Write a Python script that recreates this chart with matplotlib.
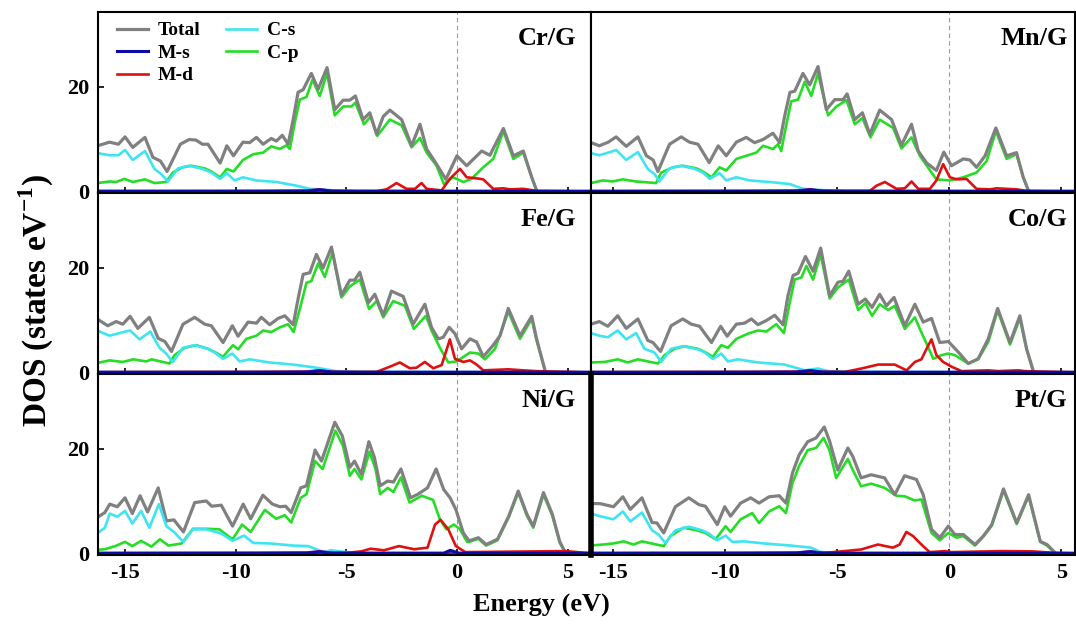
import matplotlib.pyplot as plt
import numpy as np

plt.rcParams['font.family'] = ['Liberation Serif', 'DejaVu Serif']
plt.rcParams['font.weight'] = 'bold'
plt.rcParams['axes.unicode_minus'] = False
plt.rcParams['mathtext.fontset'] = 'custom'
plt.rcParams['mathtext.rm'] = 'Liberation Serif:bold'
plt.rcParams['mathtext.bf'] = 'Liberation Serif:bold'

# Energy (eV), DOS (states/eV)
cr_total = [(-16.24, 8.7), (-15.7, 9.4), (-15.3, 9.0), (-15.0, 10.4), (-14.65, 8.4), (-14.1, 10.3),
            (-13.74, 6.5), (-13.4, 5.8), (-13.1, 3.8), (-12.5, 9.0), (-12.1, 9.9), (-11.8, 9.8),
            (-11.5, 9.0), (-11.25, 9.0), (-10.7, 5.4), (-10.4, 8.7), (-10.1, 6.8), (-9.67, 9.4),
            (-9.37, 9.3), (-9.06, 10.3), (-8.76, 9.0), (-8.39, 10.1), (-8.16, 9.6), (-7.89, 10.7),
            (-7.63, 9.0), (-7.4, 13.7), (-7.18, 18.9), (-6.95, 19.4), (-6.58, 22.5), (-6.27, 19.5),
            (-5.87, 23.6), (-5.52, 15.6), (-5.14, 17.4), (-4.84, 17.4), (-4.59, 18.2), (-4.24, 13.7),
            (-3.94, 15.0), (-3.63, 10.9), (-3.33, 14.3), (-3.03, 15.5), (-2.5, 13.7), (-2.05, 8.7),
            (-1.67, 12.8), (-1.37, 8.1), (-0.92, 5.2), (-0.5, 2.3), (0.0, 6.8), (0.44, 4.9),
            (1.12, 7.7), (1.49, 6.9), (2.1, 12.0), (2.55, 6.8), (3.0, 7.7), (3.38, 2.7), (3.6, 0.2)]
cr_cp = [(-16.24, 1.6), (-15.7, 1.9), (-15.4, 1.8), (-15.03, 2.4), (-14.65, 1.8), (-14.1, 2.3),
         (-13.67, 1.6), (-13.14, 1.8), (-12.84, 3.6), (-12.4, 4.6), (-12.0, 4.9), (-11.4, 4.4),
         (-11.1, 3.8), (-10.7, 2.7), (-10.4, 4.3), (-10.1, 3.8), (-9.67, 6.0), (-9.2, 7.1),
         (-8.76, 7.4), (-8.39, 8.6), (-8.0, 8.1), (-7.7, 8.8), (-7.55, 8.1), (-7.33, 13.1),
         (-7.1, 17.5), (-6.8, 18.0), (-6.53, 21.3), (-6.2, 18.2), (-5.87, 22.5), (-5.52, 14.5),
         (-5.14, 16.2), (-4.77, 16.2), (-4.59, 16.9), (-4.2, 12.8), (-3.9, 14.3), (-3.6, 10.6),
         (-3.03, 13.7), (-2.5, 12.6), (-2.05, 8.4), (-1.67, 10.2), (-1.37, 7.4), (-0.92, 4.9),
         (-0.59, 1.4), (-0.17, 2.7), (0.29, 1.8), (0.66, 2.4), (1.19, 4.6), (1.64, 6.2),
         (2.1, 11.5), (2.55, 6.2), (3.0, 7.4), (3.38, 2.7), (3.6, 0.2)]
cr_cs = [(-16.24, 7.3), (-15.7, 6.9), (-15.3, 6.9), (-15.0, 7.9), (-14.65, 6.0), (-14.1, 7.7),
         (-13.67, 4.3), (-13.36, 3.3), (-13.06, 1.9), (-12.6, 4.4), (-12.1, 4.9), (-11.5, 4.3),
         (-11.1, 3.6), (-10.7, 2.4), (-10.4, 3.5), (-10.05, 2.1), (-9.67, 2.7), (-9.06, 2.1),
         (-8.16, 1.8), (-7.25, 1.1), (-6.65, 0.5), (-5.75, 0.25), (-4.54, 0.1), (6.1, 0.0)]
cr_md = [(-16.24, 0.05), (-3.63, 0.05), (-3.18, 0.4), (-2.73, 1.6), (-2.28, 0.5), (-1.9, 0.5),
         (-1.6, 1.6), (-1.37, 0.5), (-0.69, 0.2), (-0.32, 2.4), (0.14, 4.3), (0.44, 2.7),
         (0.89, 2.5), (1.19, 2.3), (1.64, 0.5), (2.1, 0.6), (2.4, 0.4), (3.0, 0.5), (3.6, 0.1), (6.1, 0.0)]

mn_total = [(-15.97, 9.3), (-15.6, 8.7), (-15.2, 9.4), (-14.85, 10.4), (-14.4, 8.6), (-13.88, 10.4),
            (-13.5, 6.8), (-13.2, 6.0), (-12.99, 3.8), (-12.47, 9.0), (-11.95, 10.4), (-11.58, 9.4),
            (-11.2, 9.0), (-10.7, 5.5), (-10.3, 8.7), (-9.94, 6.8), (-9.49, 9.4), (-9.05, 10.3),
            (-8.68, 9.3), (-8.3, 9.9), (-7.86, 11.1), (-7.56, 9.3), (-7.34, 14.3), (-7.1, 18.9),
            (-6.89, 19.1), (-6.52, 22.5), (-6.22, 20.3), (-5.85, 23.8), (-5.48, 15.6), (-5.1, 17.5),
            (-4.73, 17.5), (-4.55, 18.6), (-4.21, 13.7), (-3.87, 15.0), (-3.54, 10.9), (-3.1, 15.5),
            (-2.57, 13.7), (-2.13, 8.8), (-1.68, 12.8), (-1.38, 7.7), (-1.0, 5.4), (-0.57, 4.0),
            (-0.24, 7.5), (0.1, 4.9), (0.63, 6.2), (0.92, 6.0), (1.22, 4.6), (1.6, 6.8),
            (2.08, 12.1), (2.56, 6.8), (3.0, 7.4), (3.3, 2.7), (3.53, 0.2)]
mn_cp = [(-15.97, 1.6), (-15.45, 2.1), (-15.0, 1.9), (-14.56, 2.3), (-13.96, 1.9), (-13.07, 1.6),
         (-12.84, 3.6), (-12.32, 4.6), (-11.87, 4.9), (-11.28, 4.4), (-10.98, 3.8), (-10.6, 2.7),
         (-10.24, 4.6), (-9.94, 4.0), (-9.49, 6.2), (-9.05, 6.8), (-8.6, 7.4), (-8.3, 8.7),
         (-7.86, 8.1), (-7.63, 9.0), (-7.49, 7.7), (-7.26, 12.8), (-7.04, 17.2), (-6.74, 17.5),
         (-6.44, 20.9), (-6.15, 18.2), (-5.85, 22.5), (-5.4, 14.5), (-5.03, 16.2), (-4.58, 17.4),
         (-4.21, 12.8), (-3.87, 14.0), (-3.51, 10.3), (-3.1, 13.7), (-2.5, 12.1), (-2.13, 8.2),
         (-1.68, 10.3), (-1.31, 6.8), (-1.0, 4.9), (-0.57, 2.3), (0.03, 2.1), (0.63, 2.7),
         (1.22, 3.6), (1.67, 5.8), (2.08, 11.5), (2.56, 6.2), (3.0, 7.1), (3.3, 2.7), (3.53, 0.2)]
mn_cs = [(-15.97, 7.3), (-15.6, 6.9), (-15.2, 7.4), (-14.85, 7.9), (-14.4, 6.0), (-13.88, 7.5),
         (-13.44, 4.3), (-13.14, 3.3), (-12.92, 1.9), (-12.47, 4.4), (-11.95, 4.9), (-11.35, 4.3),
         (-10.98, 3.6), (-10.68, 2.4), (-10.24, 3.5), (-9.94, 2.1), (-9.49, 2.7), (-8.9, 2.1),
         (-8.0, 1.8), (-7.1, 1.4), (-6.52, 0.5), (-5.63, 0.25), (-4.43, 0.1), (5.7, 0.0)]
mn_md = [(-15.97, 0.05), (-3.54, 0.1), (-3.24, 1.1), (-2.87, 1.8), (-2.35, 0.5), (-1.98, 0.6),
         (-1.68, 1.9), (-1.38, 0.5), (-0.86, 0.5), (-0.57, 2.1), (-0.27, 5.2), (0.03, 2.7),
         (0.33, 2.3), (0.77, 2.4), (1.22, 0.5), (1.82, 0.4), (2.11, 0.6), (3.0, 0.4), (3.45, 0.1), (5.7, 0.0)]

fe_total = [(-16.15, 9.9), (-15.78, 8.9), (-15.4, 9.7), (-15.1, 9.2), (-14.77, 10.7), (-14.42, 8.4),
            (-13.9, 10.5), (-13.5, 6.5), (-13.2, 5.9), (-12.9, 4.0), (-12.38, 9.2), (-11.85, 10.5),
            (-11.4, 9.2), (-11.1, 8.9), (-10.57, 5.7), (-10.15, 8.9), (-9.89, 6.9), (-9.44, 9.6),
            (-9.06, 9.4), (-8.84, 10.5), (-8.46, 9.1), (-8.08, 10.3), (-7.78, 10.8), (-7.4, 9.1),
            (-7.18, 14.0), (-6.95, 18.7), (-6.65, 19.0), (-6.35, 22.5), (-6.05, 19.9), (-5.67, 23.9),
            (-5.22, 14.7), (-4.84, 17.6), (-4.62, 17.6), (-4.39, 19.1), (-4.0, 13.3), (-3.71, 14.9),
            (-3.33, 10.9), (-2.96, 15.5), (-2.43, 14.5), (-1.98, 9.2), (-1.45, 13.0), (-1.15, 8.6),
            (-0.84, 6.4), (-0.62, 6.7), (-0.35, 8.6), (-0.09, 7.4), (0.21, 4.5), (0.59, 6.4),
            (0.89, 5.8), (1.19, 3.0), (1.64, 5.2), (1.95, 7.0), (2.32, 12.2), (2.85, 7.0),
            (3.38, 10.7), (3.6, 6.4), (3.98, 0.4)]
fe_cp = [(-16.15, 1.9), (-15.7, 2.3), (-15.1, 2.0), (-14.63, 2.5), (-14.04, 2.1), (-13.8, 2.5),
         (-12.99, 1.7), (-12.76, 3.3), (-12.3, 4.7), (-11.78, 5.2), (-11.25, 4.5), (-10.95, 3.9),
         (-10.57, 3.0), (-10.12, 5.2), (-9.89, 4.4), (-9.52, 6.4), (-9.06, 7.0), (-8.76, 8.0),
         (-8.39, 7.7), (-8.0, 8.6), (-7.63, 9.2), (-7.38, 7.7), (-7.1, 12.1), (-6.8, 17.1),
         (-6.58, 17.4), (-6.27, 20.8), (-5.97, 18.2), (-5.62, 22.9), (-5.22, 14.3), (-4.84, 16.4),
         (-4.39, 17.7), (-3.97, 12.1), (-3.63, 13.6), (-3.33, 10.5), (-2.88, 13.6), (-2.35, 12.7),
         (-1.95, 8.3), (-1.4, 10.8), (-1.15, 8.0), (-0.77, 4.7), (-0.39, 1.9), (-0.02, 2.1),
         (0.59, 3.8), (0.97, 3.6), (1.27, 2.5), (1.72, 4.5), (2.32, 11.6), (2.85, 6.4),
         (3.38, 10.2), (3.6, 6.1), (3.98, 0.4)]
fe_cs = [(-16.15, 7.8), (-15.7, 7.0), (-15.25, 7.5), (-14.77, 8.0), (-14.34, 6.3), (-13.86, 7.8),
         (-13.44, 4.7), (-13.14, 3.6), (-12.84, 2.0), (-12.38, 4.7), (-11.85, 5.2), (-11.25, 4.5),
         (-10.95, 3.8), (-10.57, 2.6), (-10.15, 3.6), (-9.82, 2.1), (-9.37, 2.5), (-8.46, 1.9),
         (-7.4, 1.5), (-6.35, 0.9), (-5.45, 0.25), (-4.24, 0.1), (6.1, 0.0)]
fe_md = [(-16.15, 0.05), (-3.63, 0.1), (-3.03, 1.1), (-2.58, 1.9), (-2.13, 0.8), (-1.83, 0.9),
         (-1.45, 2.0), (-1.07, 0.8), (-0.69, 1.4), (-0.5, 3.9), (-0.32, 6.3), (-0.09, 2.6),
         (0.29, 2.0), (0.59, 2.3), (0.89, 1.5), (1.19, 0.4), (2.32, 0.6), (3.0, 0.4), (3.6, 0.25), (6.1, 0.0)]

co_total = [(-15.97, 9.2), (-15.6, 9.7), (-15.22, 8.8), (-14.78, 10.8), (-14.4, 8.4), (-13.88, 10.2),
            (-13.44, 6.1), (-13.21, 5.7), (-12.87, 4.0), (-12.4, 8.9), (-11.88, 10.2), (-11.5, 9.2),
            (-11.13, 8.8), (-10.6, 5.7), (-10.19, 8.8), (-9.9, 6.9), (-9.49, 9.2), (-9.12, 9.4),
            (-8.82, 10.2), (-8.53, 9.1), (-8.15, 9.9), (-7.78, 10.9), (-7.41, 9.1), (-7.19, 14.6),
            (-6.96, 18.5), (-6.74, 18.9), (-6.41, 22.1), (-6.07, 19.3), (-5.73, 23.7), (-5.33, 14.6),
            (-4.96, 17.2), (-4.73, 17.4), (-4.48, 19.3), (-4.06, 13.0), (-3.74, 14.0), (-3.44, 12.4),
            (-3.1, 14.9), (-2.8, 12.7), (-2.46, 14.3), (-1.98, 8.9), (-1.53, 13.0), (-1.16, 9.6),
            (-0.79, 10.3), (-0.42, 5.7), (-0.04, 5.9), (0.4, 3.9), (0.85, 1.7), (1.29, 2.6),
            (1.74, 6.4), (2.16, 12.2), (2.71, 5.7), (3.15, 10.8), (3.45, 4.5), (3.75, 0.25)]
co_cp = [(-15.97, 1.9), (-15.37, 2.0), (-14.78, 2.5), (-14.33, 1.9), (-13.88, 2.5), (-12.99, 1.7),
         (-12.69, 3.3), (-12.25, 4.5), (-11.8, 5.0), (-11.2, 4.5), (-10.9, 3.9), (-10.54, 3.0),
         (-10.16, 5.2), (-9.87, 4.7), (-9.49, 6.4), (-8.97, 7.4), (-8.53, 8.0), (-8.15, 7.8),
         (-7.71, 9.2), (-7.37, 7.5), (-7.11, 13.3), (-6.89, 17.7), (-6.59, 18.1), (-6.37, 20.3),
         (-6.07, 17.7), (-5.73, 22.5), (-5.33, 14.1), (-4.96, 16.2), (-4.48, 17.7), (-4.06, 11.9),
         (-3.74, 13.2), (-3.44, 10.8), (-3.1, 13.0), (-2.72, 11.9), (-2.43, 12.7), (-1.98, 8.3),
         (-1.53, 10.5), (-1.31, 8.3), (-1.01, 5.5), (-0.71, 2.6), (-0.34, 3.3), (-0.04, 3.6),
         (0.25, 3.3), (0.85, 1.7), (1.29, 2.5), (1.74, 5.8), (2.16, 11.8), (2.71, 5.3),
         (3.15, 10.3), (3.45, 4.4), (3.75, 0.25)]
co_cs = [(-15.97, 7.5), (-15.6, 7.0), (-15.22, 6.7), (-14.78, 8.0), (-14.4, 6.3), (-13.96, 7.5),
         (-13.59, 4.5), (-13.14, 3.8), (-12.84, 2.0), (-12.4, 4.5), (-11.88, 5.0), (-11.2, 4.4),
         (-10.9, 3.8), (-10.54, 2.6), (-10.16, 3.6), (-9.87, 2.1), (-9.42, 2.5), (-8.53, 1.9),
         (-7.34, 1.5), (-6.44, 0.4), (-5.85, 0.75), (-5.4, 0.25), (-4.36, 0.1), (5.7, 0.0)]
co_md = [(-15.97, 0.05), (-4.66, 0.1), (-3.91, 0.75), (-3.17, 1.5), (-2.43, 1.5), (-1.9, 0.4),
         (-1.53, 2.0), (-1.24, 2.5), (-1.01, 4.5), (-0.79, 6.3), (-0.57, 3.3), (-0.27, 2.0),
         (0.1, 1.1), (0.55, 0.25), (1.74, 0.4), (2.19, 0.25), (3.08, 0.4), (3.38, 0.25), (5.7, 0.0)]

ni_total = [(-16.2, 7.0), (-15.91, 7.8), (-15.69, 9.4), (-15.35, 8.9), (-15.0, 10.6), (-14.67, 7.6),
            (-14.32, 11.0), (-13.98, 7.9), (-13.5, 12.5), (-13.13, 6.2), (-12.79, 6.4), (-12.36, 4.1),
            (-11.85, 9.7), (-11.33, 10.0), (-11.08, 9.0), (-10.65, 9.2), (-10.14, 5.2), (-9.66, 9.4),
            (-9.32, 6.6), (-8.77, 11.1), (-8.34, 9.4), (-8.0, 8.9), (-7.74, 9.0), (-7.49, 7.8),
            (-7.06, 12.5), (-6.8, 12.9), (-6.41, 19.7), (-6.12, 17.6), (-5.52, 25.0), (-5.18, 22.4),
            (-4.84, 16.4), (-4.63, 17.6), (-4.32, 15.1), (-3.98, 21.3), (-3.73, 18.3), (-3.47, 12.9),
            (-3.13, 13.8), (-2.87, 13.6), (-2.53, 16.1), (-2.1, 10.6), (-1.76, 11.3), (-1.33, 12.5),
            (-0.94, 16.1), (-0.6, 12.2), (-0.31, 10.6), (-0.05, 8.4), (0.29, 3.9), (0.55, 2.4),
            (0.97, 3.0), (1.32, 1.7), (1.83, 2.7), (2.34, 7.1), (2.77, 11.9), (3.16, 7.5),
            (3.45, 5.2), (3.91, 11.6), (4.31, 7.5), (4.65, 2.2), (4.91, 0.1)]
ni_cp = [(-16.2, 0.7), (-15.91, 0.8), (-15.44, 1.4), (-15.0, 2.2), (-14.67, 1.4), (-14.27, 2.4),
         (-13.81, 1.3), (-13.42, 2.7), (-13.04, 1.5), (-12.44, 1.9), (-11.93, 4.7), (-11.33, 4.7),
         (-10.74, 4.6), (-10.14, 2.7), (-9.71, 5.5), (-9.32, 4.1), (-8.68, 8.3), (-8.17, 6.6),
         (-7.78, 7.3), (-7.49, 5.9), (-7.06, 10.6), (-6.8, 11.3), (-6.41, 17.6), (-6.07, 16.1),
         (-5.49, 23.4), (-5.15, 20.5), (-4.84, 14.8), (-4.63, 16.1), (-4.32, 14.1), (-3.95, 19.4),
         (-3.68, 16.1), (-3.47, 11.3), (-3.13, 12.5), (-2.87, 11.7), (-2.53, 14.5), (-2.14, 9.7),
         (-1.59, 11.0), (-1.08, 10.2), (-0.77, 6.5), (-0.48, 4.6), (-0.14, 5.5), (0.12, 4.7),
         (0.46, 2.2), (0.55, 2.2), (0.97, 2.8), (1.32, 1.5), (1.83, 2.5), (2.34, 6.9), (2.77, 11.6),
         (3.16, 7.2), (3.45, 4.9), (3.91, 11.2), (4.31, 7.2), (4.65, 2.0), (4.91, 0.1)]
ni_cs = [(-16.2, 4.0), (-15.91, 4.9), (-15.69, 7.6), (-15.35, 7.0), (-15.0, 8.1), (-14.67, 5.7),
         (-14.27, 8.1), (-13.9, 4.9), (-13.47, 9.4), (-13.13, 5.2), (-12.79, 4.1), (-12.36, 2.2),
         (-11.93, 4.6), (-11.33, 4.6), (-10.65, 3.8), (-10.14, 2.4), (-9.62, 3.4), (-9.2, 2.0),
         (-8.43, 1.9), (-7.4, 1.5), (-6.72, 1.4), (-6.03, 0.25), (-5.69, 0.6), (-5.0, 0.25),
         (-3.98, 0.1), (6.1, 0.0)]
ni_md = [(-16.2, 0.05), (-5.0, 0.1), (-4.32, 0.4), (-3.9, 0.9), (-3.3, 0.6), (-2.62, 1.4),
         (-1.93, 0.8), (-1.33, 1.1), (-0.99, 5.5), (-0.74, 6.4), (-0.39, 4.6), (-0.05, 1.4),
         (0.38, 0.25), (4.91, 0.45), (6.1, 0.0)]

pt_total = [(-16.04, 9.5), (-15.57, 9.5), (-14.97, 8.9), (-14.55, 10.8), (-14.22, 8.4), (-13.7, 10.6),
            (-13.25, 5.9), (-13.03, 5.8), (-12.73, 3.9), (-12.21, 8.9), (-11.61, 10.6), (-11.16, 9.3),
            (-10.87, 9.0), (-10.34, 5.5), (-10.01, 8.9), (-9.75, 7.1), (-9.3, 9.6), (-8.85, 10.6),
            (-8.48, 9.6), (-8.03, 10.8), (-7.58, 11.0), (-7.28, 9.6), (-6.99, 15.3), (-6.69, 18.8),
            (-6.31, 21.3), (-5.94, 22.0), (-5.57, 24.1), (-5.34, 21.5), (-4.97, 15.9), (-4.52, 20.1),
            (-4.3, 18.5), (-3.93, 14.4), (-3.48, 15.0), (-2.88, 14.4), (-2.43, 11.2), (-1.99, 14.8),
            (-1.46, 14.1), (-1.16, 11.2), (-0.79, 4.6), (-0.42, 3.0), (-0.04, 5.2), (0.25, 3.6),
            (0.63, 3.6), (1.15, 1.7), (1.52, 3.3), (1.9, 5.5), (2.42, 12.3), (3.01, 5.8),
            (3.54, 11.2), (4.06, 2.3), (4.36, 1.7), (4.73, 0.1)]
pt_cp = [(-16.04, 1.5), (-15.42, 1.7), (-14.97, 1.9), (-14.52, 2.3), (-14.07, 1.7), (-13.7, 2.3),
         (-12.73, 1.4), (-12.43, 3.3), (-11.84, 4.9), (-11.24, 4.4), (-10.87, 3.9), (-10.42, 2.7),
         (-9.97, 5.2), (-9.75, 4.1), (-9.3, 6.5), (-8.78, 7.7), (-8.48, 5.8), (-8.03, 8.0),
         (-7.58, 9.0), (-7.28, 7.7), (-6.99, 13.4), (-6.69, 16.7), (-6.31, 19.7), (-5.94, 20.1),
         (-5.6, 22.0), (-5.34, 19.7), (-5.04, 14.4), (-4.52, 18.0), (-4.3, 15.9), (-3.93, 12.8),
         (-3.48, 13.3), (-2.88, 12.5), (-2.36, 11.0), (-1.99, 10.9), (-1.54, 10.1), (-1.24, 10.3),
         (-0.79, 3.9), (-0.42, 2.5), (-0.04, 3.9), (0.33, 3.0), (0.63, 3.3), (1.15, 1.5),
         (1.52, 3.2), (1.9, 5.3), (2.42, 12.0), (3.01, 5.6), (3.54, 10.9), (4.06, 2.2),
         (4.36, 1.5), (4.73, 0.1)]
pt_cs = [(-16.04, 7.7), (-15.57, 7.1), (-14.97, 6.5), (-14.55, 8.0), (-14.22, 6.1), (-13.7, 7.8),
         (-13.25, 4.4), (-12.96, 3.6), (-12.66, 2.0), (-12.21, 4.4), (-11.61, 5.1), (-11.01, 4.4),
         (-10.72, 3.8), (-10.34, 2.5), (-9.97, 3.4), (-9.67, 2.2), (-9.15, 2.3), (-8.25, 1.9),
         (-7.06, 1.5), (-6.16, 1.1), (-5.72, 0.25), (-4.37, 0.1), (5.7, 0.0)]
pt_md = [(-16.04, 0.05), (-5.57, 0.1), (-4.67, 0.45), (-3.93, 0.75), (-3.18, 1.7), (-2.51, 1.1),
         (-2.21, 1.7), (-1.91, 4.1), (-1.61, 3.3), (-1.24, 1.7), (-0.87, 0.25), (-0.19, 0.45),
         (0.1, 0.25), (2.34, 0.45), (3.69, 0.4), (4.73, 0.1), (5.7, 0.0)]

# metal s (blue) and metal p (purple) stay close to zero
ms_small = [(-16.3, 0.05), (-6.8, 0.05), (-6.2, 0.3), (-5.6, 0.05), (6.2, 0.05)]
ni_ms = [(-16.3, 0.05), (-6.8, 0.05), (-6.2, 0.3), (-5.6, 0.05), (-0.6, 0.05), (-0.3, 0.6), (0.1, 0.05), (6.2, 0.05)]
mp_small = [(-16.3, 0.0), (-9.0, 0.05), (-6.8, 0.15), (-6.2, 0.4), (-5.7, 0.1), (-4.5, 0.0), (6.2, 0.0)]

panel_names = ['Cr/G', 'Mn/G', 'Fe/G', 'Co/G', 'Ni/G', 'Pt/G']
totals = [cr_total, mn_total, fe_total, co_total, ni_total, pt_total]
c_p = [cr_cp, mn_cp, fe_cp, co_cp, ni_cp, pt_cp]
c_s = [cr_cs, mn_cs, fe_cs, co_cs, ni_cs, pt_cs]
m_d = [cr_md, mn_md, fe_md, co_md, ni_md, pt_md]
m_s = [ms_small, ms_small, ms_small, ms_small, ni_ms, ms_small]

colors = {'Total': '#808080', 'M-s': '#0b0ba8', 'M-d': '#dd1111',
          'C-s': '#3ee4f2', 'C-p': '#25dd25', 'M-p': '#7a1a8a'}

fig = plt.figure(figsize=(10.76, 6.33), dpi=100)
gs = fig.add_gridspec(3, 2, left=0.0911, right=0.9991, top=0.981, bottom=0.1232,
                      wspace=0, hspace=0, width_ratios=[493, 484])


def draw(ax, pts, key, lw):
    e, d = np.array(pts).T
    ax.plot(e, d, color=colors[key], lw=lw, label=key, solid_joinstyle='round')


axes = []
for i, name in enumerate(panel_names):
    r, c = divmod(i, 2)
    ax = fig.add_subplot(gs[r, c])
    axes.append(ax)
    ax.axvline(0, color='#9a9a9a', lw=0.8, ls=(0, (4, 3)), zorder=1)
    draw(ax, c_p[i], 'C-p', 1.9)
    draw(ax, totals[i], 'Total', 2.3)
    draw(ax, c_s[i], 'C-s', 1.9)
    draw(ax, mp_small, 'M-p', 2.0)
    draw(ax, m_d[i], 'M-d', 1.9)
    draw(ax, m_s[i], 'M-s', 2.2)

    if c == 0:
        ax.set_xlim(-16.22, 6.06)
    else:
        ax.set_xlim(-15.97, 5.61)
    ax.set_ylim(-0.3, 34.2)
    ax.set_xticks([-15, -10, -5, 0, 5])
    ax.set_yticks([0, 20])
    ax.tick_params(direction='in', length=4, width=1.2, labelsize=16, pad=6)
    if r < 2:
        ax.tick_params(labelbottom=False)
    if c == 1:
        ax.tick_params(axis='y', labelleft=False, length=0)
    for sp in ax.spines.values():
        sp.set_linewidth(1.5)
    ax.text(0.97 if c == 0 else 0.985, 0.855, name, transform=ax.transAxes,
            ha='right', va='center', fontsize=19, fontweight='bold')

# heavier frame lines seen in the picture
axes[1].spines['bottom'].set_linewidth(3)
axes[5].spines['left'].set_linewidth(4)

h = {ln.get_label(): ln for ln in axes[0].get_lines()}
order = ['Total', 'M-s', 'M-d', 'C-s', 'C-p']
axes[0].legend([h[k] for k in order], order, ncol=2, loc='upper left',
               bbox_to_anchor=(0.015, 1.01), frameon=False, fontsize=14,
               handlelength=1.6, handletextpad=0.5, labelspacing=0.25,
               columnspacing=1.3, borderaxespad=0.2)

fig.text(0.503, 0.044, 'Energy (eV)', ha='center', va='center', fontsize=19, fontweight='bold')
fig.text(0.034, 0.526, 'DOS (states eV$^{-1}$)', ha='center', va='center',
         rotation=90, fontsize=24, fontweight='bold')

fig.savefig('out.png', dpi=100)
